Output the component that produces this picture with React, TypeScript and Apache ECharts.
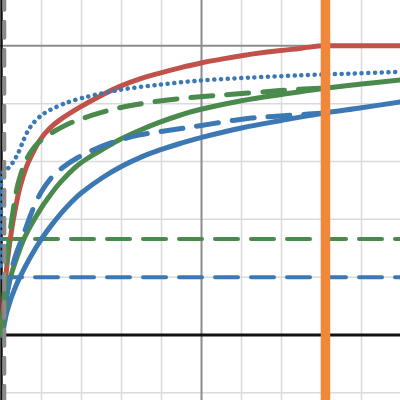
import React, { useEffect, useRef } from "react";
import * as echarts from "echarts";

// ---- data ----
const redX = [0.01, 0.05, 0.1, 0.16, 0.25, 0.34, 0.46, 0.63, 0.8, 0.96, 1.2, 1.46, 1.96, 2.46, 2.96, 3.46, 3.96, 4.46, 4.96, 5.5, 6.0, 6.5, 7.0, 7.5, 8.1, 9.97];
const redY = [0, 0.5, 0.95, 1.35, 1.8, 2.16, 2.55, 2.92, 3.17, 3.37, 3.57, 3.72, 3.94, 4.13, 4.3, 4.43, 4.53, 4.62, 4.7, 4.77, 4.83, 4.88, 4.92, 4.96, 5.0, 5.0];

const greenX = [0.02, 0.08, 0.21, 0.39, 0.6, 0.96, 1.2, 1.46, 1.88, 2.21, 2.6, 2.96, 3.46, 3.96, 4.46, 4.96, 6.0, 7.0, 8.0, 9.0, 9.97];
const greenY = [0, 0.45, 0.95, 1.35, 1.72, 2.16, 2.4, 2.63, 2.92, 3.08, 3.24, 3.38, 3.54, 3.68, 3.8, 3.9, 4.05, 4.16, 4.26, 4.34, 4.41];

const blueX = [0.03, 0.1, 0.2, 0.32, 0.46, 0.71, 0.96, 1.25, 1.51, 1.75, 2.0, 2.5, 2.96, 3.5, 3.96, 4.5, 4.96, 6.0, 7.0, 8.0, 9.0, 9.97];
const blueY = [0, 0.3, 0.55, 0.78, 1.0, 1.33, 1.62, 1.9, 2.12, 2.3, 2.46, 2.71, 2.9, 3.08, 3.2, 3.32, 3.41, 3.58, 3.71, 3.83, 3.93, 4.03];

const greenDashX = [0.02, 0.06, 0.12, 0.2, 0.29, 0.39, 0.5, 0.6, 0.7, 0.79, 0.9, 1.05, 1.29, 1.64, 2.05, 2.46, 2.96, 3.5, 4.1, 4.96, 5.7, 6.46, 7.46, 8.1];
const greenDashY = [0, 0.6, 1.2, 1.7, 2.15, 2.55, 2.82, 3.0, 3.13, 3.22, 3.31, 3.4, 3.51, 3.64, 3.75, 3.84, 3.93, 4.0, 4.06, 4.12, 4.16, 4.2, 4.25, 4.27];

const blueDashX = [0.03, 0.1, 0.2, 0.34, 0.54, 0.8, 1.0, 1.2, 1.46, 1.89, 2.46, 2.96, 3.46, 4.2, 4.96, 5.6, 6.2, 6.8, 7.46, 8.1];
const blueDashY = [0, 0.55, 0.95, 1.35, 1.72, 2.2, 2.48, 2.68, 2.86, 3.06, 3.25, 3.37, 3.46, 3.54, 3.62, 3.69, 3.75, 3.78, 3.81, 3.84];

const dotX = [-0.01, -0.01, 0.0, 0.1, 0.2, 0.3, 0.42, 0.54, 0.66, 0.79, 1.0, 1.21, 1.64, 2.14, 2.96, 3.96, 4.96, 6.2, 7.46, 8.7, 9.97];
const dotY = [1.2, 2.6, 2.78, 2.84, 2.91, 3.0, 3.15, 3.35, 3.53, 3.66, 3.8, 3.89, 4.02, 4.12, 4.24, 4.33, 4.4, 4.45, 4.49, 4.52, 4.55];

const hLevelGreen = 1.66;
const hLevelBlue = 1.0;
const orangeX = 8.1;
const grayDashX = 0.07;

const minorX = [1, 2, 3, 4, 6, 7, 8, 9];
const majorX = [5];
const minorY = [-1, 1, 2, 3, 4];
const majorY = [5];

const X_MIN = -0.0375;
const X_MAX = 9.9625;
const Y_MIN = -1.124;
const Y_MAX = 5.793;

const RED = "#c1524a";
const GREEN = "#4a8a4c";
const BLUE = "#3c78b4";
const ORANGE = "#f0883c";

function pairs(xs: number[], ys: number[]) {
  return xs.map((x, i) => [x, ys[i]]);
}

function curve(name: string, xs: number[], ys: number[], color: string, type: any, width: number, z: number, smooth = 0.4) {
  return {
    name,
    type: "line",
    data: pairs(xs, ys),
    showSymbol: false,
    symbol: "none",
    smooth,
    silent: true,
    z,
    clip: true,
    lineStyle: { color, width, type, cap: "round", join: "round" },
  };
}

function vline(x: number, color: string, width: number, type: any, z: number) {
  return {
    type: "line",
    data: [[x, Y_MIN - 1], [x, Y_MAX + 1]],
    showSymbol: false,
    symbol: "none",
    silent: true,
    z,
    lineStyle: { color, width, type, cap: type === "solid" ? "butt" : "round" },
  };
}

function hline(y: number, x0: number, color: string, width: number, type: any, z: number) {
  return {
    type: "line",
    data: [[x0, y], [X_MAX + 1, y]],
    showSymbol: false,
    symbol: "none",
    silent: true,
    z,
    lineStyle: { color, width, type, cap: type === "solid" ? "butt" : "round" },
  };
}

export default function App() {
  const ref = useRef<HTMLDivElement>(null);
  useEffect(() => {
    if (!ref.current) return;
    const chart = echarts.init(ref.current, undefined, { renderer: "svg" });
    const series: any[] = [];
    minorX.forEach((x) => series.push(vline(x, "#dadada", 1.5, "solid", 1)));
    minorY.forEach((y) => series.push(hline(y, X_MIN - 1, "#dadada", 1.5, "solid", 1)));
    majorX.forEach((x) => series.push(vline(x, "#8c8c8c", 2, "solid", 1)));
    majorY.forEach((y) => series.push(hline(y, X_MIN - 1, "#8c8c8c", 2, "solid", 1)));
    series.push(hline(0, X_MIN - 1, "#111111", 3, "solid", 2));
    series.push(vline(0, "#111111", 2.5, "solid", 2));
    series.push(hline(hLevelGreen, -0.0625, GREEN, 4, [23, 13], 3));
    series.push(hline(hLevelBlue, -0.0625, BLUE, 4, [23, 13], 3));
    series.push(curve("blue", blueX, blueY, BLUE, "solid", 5, 4));
    series.push(curve("green", greenX, greenY, GREEN, "solid", 5, 4));
    series.push(curve("red", redX, redY, RED, "solid", 5, 5));
    series.push(curve("blueDash", blueDashX, blueDashY, BLUE, [22, 14], 5, 6));
    series.push(curve("greenDash", greenDashX, greenDashY, GREEN, [22, 14], 5, 6));
    series.push(curve("dotted", dotX, dotY, BLUE, [0.1, 6.6], 4.5, 7, 0.3));
    series.push(vline(grayDashX, "#8a8a8a", 4, [16, 12], 8));
    series.push(vline(orangeX, ORANGE, 9.5, "solid", 10));

    chart.setOption({
      animation: false,
      grid: { left: 0, right: 0, top: 0, bottom: 0, containLabel: false },
      xAxis: { type: "value", min: X_MIN, max: X_MAX, show: false },
      yAxis: { type: "value", min: Y_MIN, max: Y_MAX, show: false },
      series,
    });
    return () => chart.dispose();
  }, []);
  return (
    <div
      ref={ref}
      style={{ position: "fixed", left: 0, top: 0, width: 400, height: 400, background: "#ffffff" }}
    />
  );
}
